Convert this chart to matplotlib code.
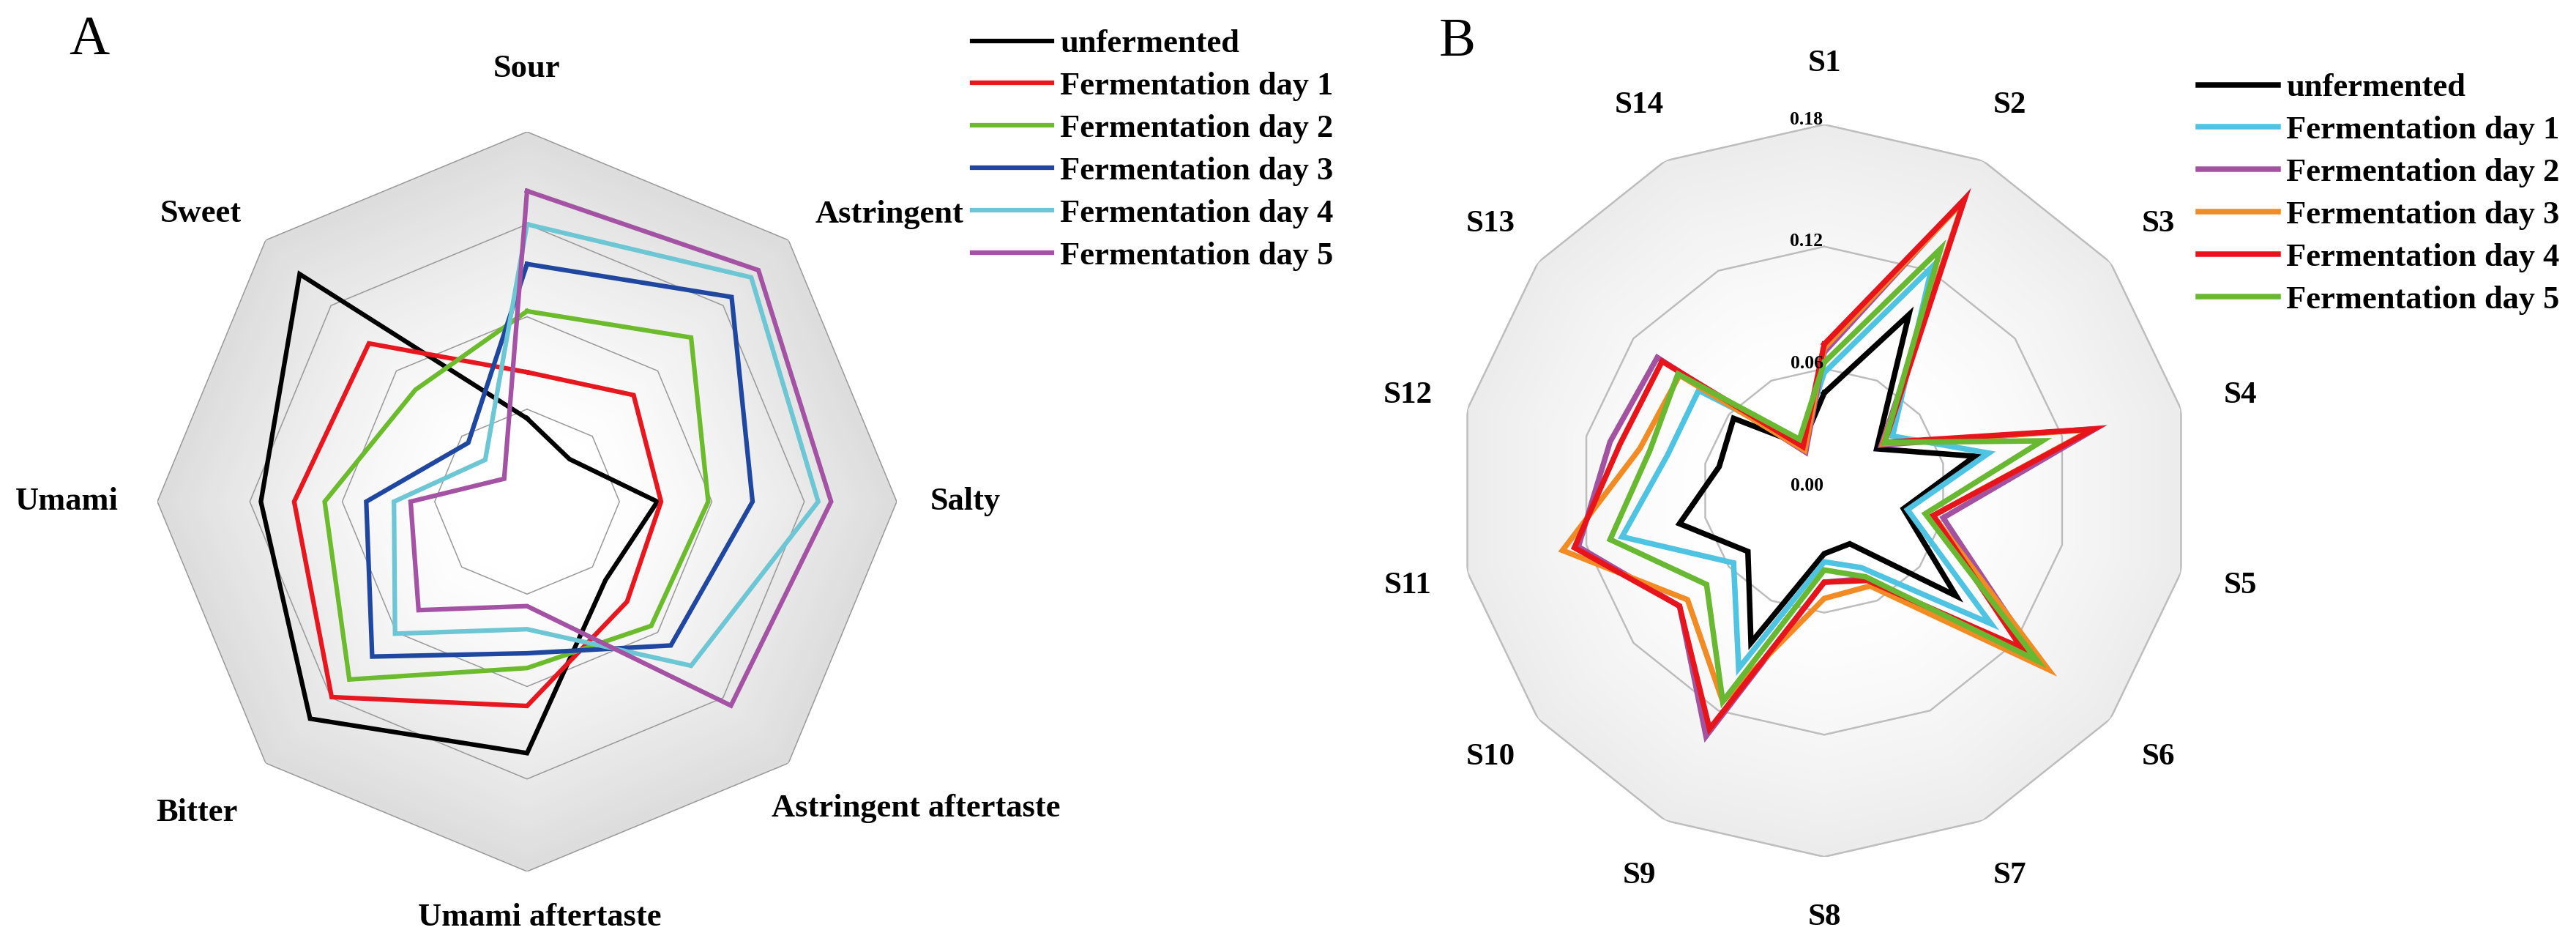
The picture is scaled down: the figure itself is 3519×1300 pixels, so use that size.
import numpy as np
import matplotlib
matplotlib.use("Agg")
import matplotlib.pyplot as plt

plt.rcParams["font.family"] = ["Liberation Serif", "DejaVu Serif"]

# ---- panel A data (electronic tongue, arbitrary radar units 0-4) ----
taste_labels = ["Sour", "Astringent", "Salty", "Astringent aftertaste",
                "Umami aftertaste", "Bitter", "Umami", "Sweet"]
a_unfermented = [0.90, 0.65, 1.41, 1.20, 2.72, 3.32, 2.88, 3.48]
a_day1 = [1.40, 1.63, 1.45, 1.53, 2.21, 2.99, 2.52, 2.42]
a_day2 = [2.06, 2.51, 1.96, 1.90, 1.80, 2.72, 2.19, 1.71]
a_day3 = [2.57, 3.13, 2.44, 2.20, 1.64, 2.37, 1.74, 0.90]
a_day4 = [3.00, 3.43, 3.15, 2.51, 1.38, 2.02, 1.44, 0.64]
a_day5 = [3.36, 3.54, 3.29, 3.12, 1.13, 1.66, 1.26, 0.35]

# ---- panel B data (electronic nose sensors S1-S14) ----
sensor_labels = ["S%d" % i for i in range(1, 15)]
b_unfermented = [0.048, 0.096, 0.033, 0.076, 0.040, 0.083, 0.029, 0.031, 0.083, 0.048, 0.073, 0.053, 0.057, 0.025]
b_day1 = [0.058, 0.122, 0.043, 0.083, 0.042, 0.105, 0.042, 0.035, 0.097, 0.057, 0.102, 0.079, 0.079, 0.026]
b_day2 = [0.068, 0.159, 0.036, 0.137, 0.060, 0.135, 0.048, 0.045, 0.134, 0.091, 0.124, 0.108, 0.105, 0.021]
b_day3 = [0.070, 0.158, 0.037, 0.135, 0.055, 0.141, 0.052, 0.053, 0.115, 0.086, 0.132, 0.093, 0.091, 0.022]
b_day4 = [0.072, 0.159, 0.038, 0.136, 0.055, 0.124, 0.049, 0.045, 0.130, 0.091, 0.126, 0.103, 0.102, 0.024]
b_day5 = [0.063, 0.132, 0.038, 0.110, 0.051, 0.134, 0.047, 0.039, 0.115, 0.074, 0.108, 0.088, 0.092, 0.028]
b_ticks = [0.00, 0.06, 0.12, 0.18]

series_names = ["unfermented", "Fermentation day 1", "Fermentation day 2",
                "Fermentation day 3", "Fermentation day 4", "Fermentation day 5"]
a_colors = ["#000000", "#E8171F", "#6CBB2D", "#1F47A0", "#6CC6D4", "#A453A4"]
b_colors = ["#000000", "#4FC3E2", "#A352A0", "#F28B24", "#E8141B", "#68B931"]

W, H = 3519, 1300
fig = plt.figure(figsize=(W / 100, H / 100), dpi=100)


def px_axes(cx, cy, r):
    return fig.add_axes([(cx - r) / W, 1 - (cy + r) / H, 2 * r / W, 2 * r / H], projection="polar")


def setup(ax, n, rmax, edge_gray, white_frac):
    ax.set_theta_zero_location("N")
    ax.set_theta_direction(-1)
    ax.set_ylim(0, rmax)
    ax.grid(False)
    ax.set_xticks([])
    ax.set_yticks([])
    ax.spines["polar"].set_visible(False)
    ax.patch.set_visible(False)
    th = np.linspace(0, 2 * np.pi, n, endpoint=False)
    thc = np.append(th, th[0])
    # radial grey gradient clipped to the outer polygon
    for f in np.linspace(1, 0.02, 70):
        t = max(0.0, (f - white_frac) / (1 - white_frac))
        g = 1 - (1 - edge_gray) * t ** 1.3
        ax.fill(thc, np.full(n + 1, f * rmax), color=(g, g, g), lw=0, zorder=0)
    return th, thc


leg_kw = dict(loc="upper left", frameon=False, prop={"size": 32, "weight": "bold"},
              handlelength=2.45, handletextpad=0.25, labelspacing=0.40,
              borderpad=0, borderaxespad=0)

# ---------------- panel A ----------------
axA = px_axes(720, 685, 505)
th, thc = setup(axA, 8, 4, 0.865, 0.2)
for v in [1, 2, 3, 4]:
    axA.plot(thc, np.full(9, v), color="#9A9A9A", lw=1.1, zorder=1)
a_series = [a_unfermented, a_day1, a_day2, a_day3, a_day4, a_day5]
for name, vals, c in zip(series_names, a_series, a_colors):
    axA.plot(thc, np.append(vals, vals[0]), color=c, lw=4.5, label=name,
             zorder=3, solid_joinstyle="miter")
# label positions (angle deg, radius)
a_lab_pos = [(0, 4.68), (51.6, 5.0), (90, 4.74), (128.3, 5.36),
             (178.3, 4.5), (226.7, 4.91), (270, 4.98), (311.4, 4.71)]
for lab, (ang, r) in zip(taste_labels, a_lab_pos):
    axA.text(np.deg2rad(ang), r, lab, ha="center", va="center", fontsize=32,
             fontweight="bold", clip_on=False)
fig.legend(*axA.get_legend_handles_labels(), bbox_to_anchor=(1328 / W, 1 - 40 / H), **leg_kw)
fig.text(122 / W, 1 - 55 / H, "A", fontsize=55, ha="center", va="center")

# ---------------- panel B ----------------
axB = px_axes(2492, 670, 500)
th, thc = setup(axB, 14, 0.18, 0.925, 0.3)
for v in b_ticks[1:]:
    axB.plot(thc, np.full(15, v), color="#BDBDBD", lw=1.8, zorder=1)
b_series = [b_unfermented, b_day1, b_day2, b_day3, b_day4, b_day5]
for name, vals, c in zip(series_names, b_series, b_colors):
    axB.plot(thc, np.append(vals, vals[0]), color=c, lw=5.4, label=name,
             zorder=3, solid_joinstyle="miter")
for v in b_ticks:
    axB.annotate("%.2f" % v, (0, v), xytext=(-1, 5), textcoords="offset points",
                 ha="right", va="center", fontsize=18.5, fontweight="bold",
                 annotation_clip=False, zorder=4)
for lab, ang in zip(sensor_labels, th):
    axB.text(ang, 0.21, lab, ha="center", va="center", fontsize=31,
             fontweight="bold", clip_on=False)
fig.legend(*axB.get_legend_handles_labels(), bbox_to_anchor=(3003 / W, 1 - 100 / H), **leg_kw)
fig.text(1991 / W, 1 - 58 / H, "B", fontsize=54, ha="center", va="center")

fig.savefig("out.png", dpi=100)
